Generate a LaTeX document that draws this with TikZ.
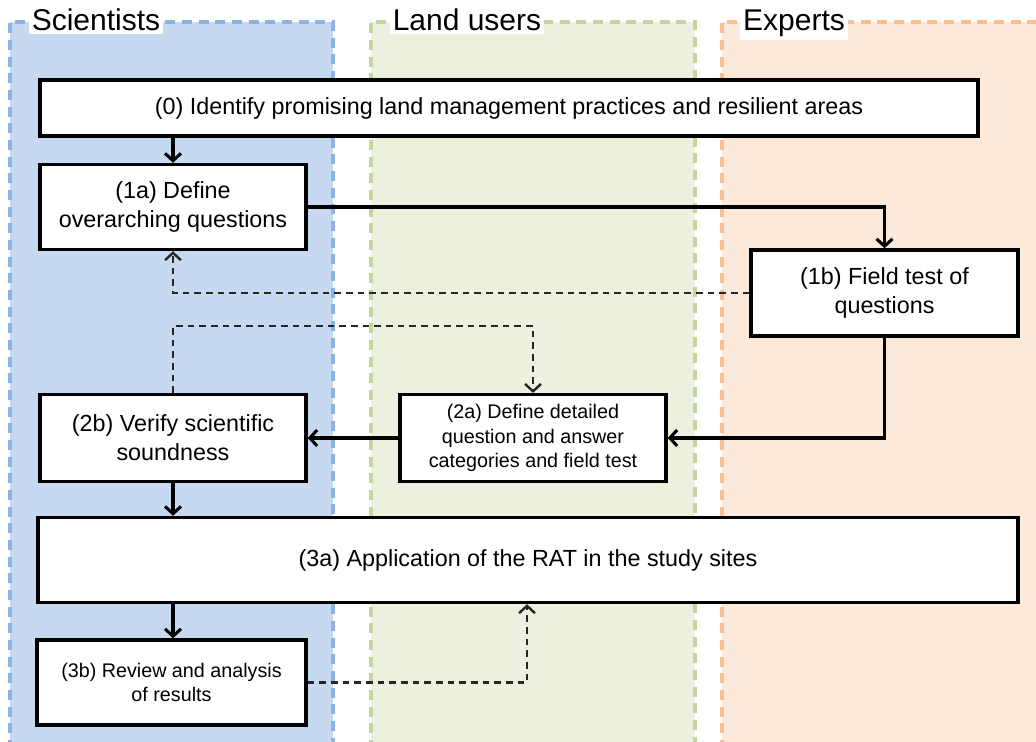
\documentclass[tikz,border=0pt]{standalone}
\usepackage{fontspec}
\setmainfont{Liberation Sans}
\usetikzlibrary{arrows.meta}

\definecolor{sfill}{RGB}{198,217,240}
\definecolor{sline}{RGB}{141,179,226}
\definecolor{lfill}{RGB}{235,241,222}
\definecolor{lline}{RGB}{195,214,155}
\definecolor{efill}{RGB}{253,233,217}
\definecolor{eline}{RGB}{250,192,144}

\tikzset{
  lane/.style={line width=2.6pt, dash pattern=on 7.5pt off 5pt},
  lanetitle/.style={fill=white, inner sep=2pt, anchor=base, font=\fontsize{22.5}{25}\selectfont},
  stepbox/.style={draw, line width=2.6pt, fill=white, align=center,
    font=\fontsize{17.5}{21.75}\selectfont},
  smallbox/.style={stepbox, font=\fontsize{14.8}{18.4}\selectfont},
  arr/.style={line width=2.3pt, -{Straight Barb[length=5.5pt,width=12pt]}},
  darr/.style={arr, line width=1.8pt, draw=black!85, dash pattern=on 5pt off 3.75pt}
}

\begin{document}
\begin{tikzpicture}[x=0.75pt,y=-0.75pt]
      \useasboundingbox (0,0) rectangle (1036,742);
      \fill[white] (0,0) rectangle (1036,742);
      % lanes
      \foreach \a/\b/\f/\l in {10/333/sfill/sline,371/695/lfill/lline,722/1044/efill/eline}{
      \draw[lane, fill=\f, draw=\l] (\a,750) -- (\a,22) -- (\b,22) -- (\b,750);
      }
      \node[lanetitle] (tsci) at (96,31) {Scientists};
      \node[lanetitle] (tland) at (467,31) {Land users};
      \node[lanetitle] (texp) at (794,31) {Experts};
      % steps
      \node[stepbox, minimum width=703.5pt, minimum height=42pt] (s0) at (509,108)
        {(0) Identify promising land management practices and resilient areas};
      \node[stepbox, minimum width=199.5pt, minimum height=63.75pt] (s1a) at (173,207)
        {(1a) Define\\overarching questions};
      \node[stepbox, minimum width=200pt, minimum height=64.5pt] (s1b) at (884.5,293)
        {(1b) Field test of\\questions};
      \node[smallbox, minimum width=199.5pt, minimum height=65pt] (s2a) at (533,438)
        {(2a) Define detailed\\question and answer\\categories and field test};
      \node[stepbox, minimum width=199.5pt, minimum height=65pt] (s2b) at (173,438)
        {(2b) Verify scientific\\soundness};
      \node[stepbox, minimum width=735pt, minimum height=63.75pt] (s3a) at (528,560)
        {(3a) Application of the RAT in the study sites};
      \node[smallbox, minimum width=201.5pt, minimum height=63.75pt] (s3b) at (171.5,682.5)
        {(3b) Review and analysis\\of results};
      \coordinate (k) at (533,326);
      \coordinate (r) at (527,0);
      % connectors
      \draw[arr] (s0.south -| s1a.north) -- (s1a.north);
      \draw[arr] (s1a.east) -| (s1b.north);
      \draw[darr] (s1b.west) -| (s1a.south);
      \draw[darr] (s2b.north) |- (k) -- (s2a.north);
      \draw[arr] (s1b.south) |- (s2a.east);
      \draw[arr] (s2a.west) -- (s2b.east);
      \draw[arr] (s2b.south) -- (s2b.south |- s3a.north);
      \draw[arr] (s3a.south -| s2b.south) -- (s2b.south |- s3b.north);
      \draw[darr] (s3b.east) -| (r |- s3a.south);
    \end{tikzpicture}
\end{document}
